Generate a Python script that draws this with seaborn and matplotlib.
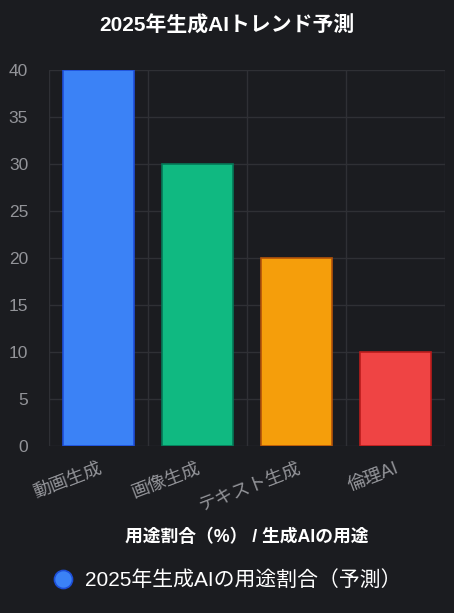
import matplotlib
matplotlib.use("Agg")
import matplotlib.pyplot as plt
import seaborn as sns
import pandas as pd
from matplotlib.lines import Line2D

categories = ["動画生成", "画像生成", "テキスト生成", "倫理AI"]
values = [40, 30, 20, 10]
fill_colors = ["#3b82f6", "#10b981", "#f59e0b", "#ef4444"]
edge_colors = ["#1d4ed8", "#047857", "#b45309", "#b91c1c"]
y_ticks = [0, 5, 10, 15, 20, 25, 30, 35, 40]
title = "2025年生成AIトレンド予測"
x_label = "用途割合（%） / 生成AIの用途"
legend_label = "2025年生成AIの用途割合（予測）"

BG = "#1b1c20"
GRID = "#2f3035"
TICK = "#939499"

sns.set_theme(style="dark")
plt.rcParams['font.family'] = ['Liberation Sans', 'Noto Sans CJK JP', 'DejaVu Sans']

df = pd.DataFrame({"category": categories, "value": values})

fig = plt.figure(figsize=(4.54, 6.13), dpi=100, facecolor=BG)
ax = fig.add_axes([49/454, 1-446/613, (445-49)/454, (446-70)/613])
ax.set_facecolor(BG)

sns.barplot(data=df, x="category", y="value", hue="category",
            palette=fill_colors, saturation=1, width=0.71, legend=False, ax=ax,
            linewidth=1.2, zorder=3)
for patch, ec in zip(ax.patches, edge_colors):
    patch.set_edgecolor(ec)

ax.set_xlim(-0.5, len(categories) - 0.5)
ax.set_ylim(0, 40)
ax.set_yticks(y_ticks)
ax.set_yticklabels([str(t) for t in y_ticks], color=TICK, fontsize=12.5)

ax.set_xticks(range(len(categories)))
ax.set_xticklabels(categories, color=TICK, fontsize=13, rotation=21,
                   ha="right", rotation_mode="anchor")
ax.set_xticks([i - 0.5 for i in range(len(categories) + 1)], minor=True)

ax.tick_params(axis="x", which="major", length=0, pad=10)
ax.tick_params(axis="x", which="minor", length=12, color=GRID, width=1)
ax.tick_params(axis="y", which="major", length=12, color=GRID, width=1, pad=3)

ax.grid(False)
ax.grid(True, axis="y", which="major", color=GRID, linewidth=1, zorder=0)
ax.grid(True, axis="x", which="minor", color=GRID, linewidth=1, zorder=0)
for s in ax.spines.values():
    s.set_visible(False)

ax.set_xlabel(x_label, color="white", fontsize=12.8, fontweight="bold")
ax.set_ylabel("")
ax.xaxis.set_label_coords(0.5, -(537-446)/376, transform=ax.transAxes)
ax.xaxis.label.set_va("center")

fig.text(0.5, 1-25/613, title, color="white", fontsize=15, fontweight="bold",
         ha="center", va="center")

handle = Line2D([], [], marker="o", linestyle="none", markersize=13,
                markerfacecolor=fill_colors[0], markeredgecolor=edge_colors[0],
                markeredgewidth=1.2)
leg = fig.legend(handles=[handle], labels=[legend_label], loc="center",
                 bbox_to_anchor=(0.489, 1-580/613), frameon=False,
                 fontsize=15, handletextpad=0.05, borderaxespad=0)
for t in leg.get_texts():
    t.set_color("white")

fig.savefig("out.png", dpi=100, facecolor=BG)
